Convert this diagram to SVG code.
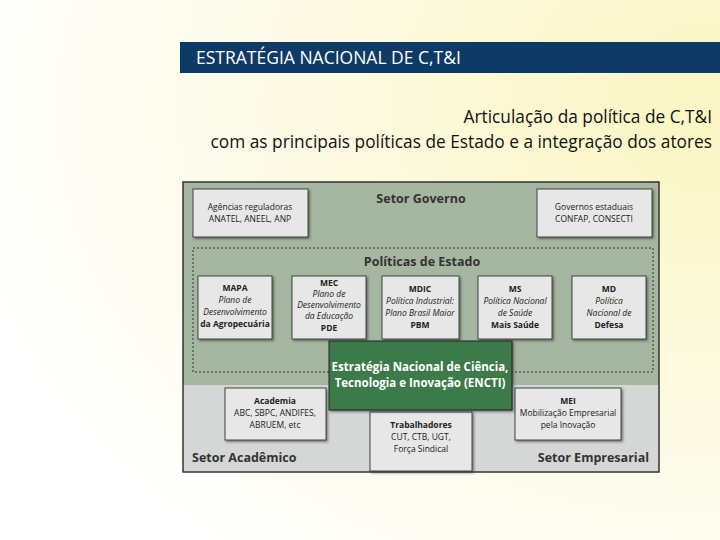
<svg xmlns="http://www.w3.org/2000/svg" width="720" height="540" viewBox="0 0 720 540">
<defs>
<radialGradient id="bg" cx="1" cy="0.2" r="1.1"><stop offset="0" stop-color="#fbf6c2"/><stop offset="0.6" stop-color="#fdfbe8"/><stop offset="1" stop-color="#ffffff"/></radialGradient>
<filter id="sh"><feDropShadow dx="1.5" dy="1.5" stdDeviation="1" flood-color="#333" flood-opacity="0.6"/></filter>
</defs>
<style>
text{font-family:"Open Sans","Liberation Sans",sans-serif;}
.box{fill:#e6e7e6;stroke:#444;stroke-width:1;filter:url(#sh);}
.t{font-size:8.5px;fill:#222;text-anchor:middle;}
.i{font-style:italic;}
.b{font-weight:bold;}
.h{font-size:12.5px;fill:#333;font-weight:bold;}
</style>
<rect width="720" height="540" fill="url(#bg)"/>
<rect x="180" y="42" width="540" height="31" fill="#0e3a66"/>
<text x="196" y="64" font-size="17.5" fill="#fff">ESTRATÉGIA NACIONAL DE C,T&amp;I</text>
<text x="712" y="123" font-size="17.3" fill="#111" text-anchor="end">Articulação da política de C,T&amp;I</text>
<text x="712" y="148" font-size="17.3" fill="#111" text-anchor="end">com as principais políticas de Estado e a integração dos atores</text>
<g id="frame">
<rect x="183" y="182" width="476" height="203" fill="#a5b7a0"/>
<rect x="183" y="385" width="476" height="87" fill="#d5d6d6"/>
<rect x="183" y="182" width="476" height="290" fill="none" stroke="#333" stroke-width="1.5"/>
<rect x="193" y="248" width="460" height="124" fill="none" stroke="#333" stroke-dasharray="2,2"/>
<text x="421" y="203" class="h" text-anchor="middle">Setor Governo</text>
<text x="422" y="266" class="h" text-anchor="middle">Políticas de Estado</text>
<text x="192" y="462" class="h">Setor Acadêmico</text>
<text x="649" y="462" class="h" text-anchor="end">Setor Empresarial</text>
</g>
<g id="agencias"><rect class="box" x="193" y="189" width="115" height="48"/><text class="t" x="250" y="210">Agências reguladoras</text><text class="t" x="250" y="222">ANATEL, ANEEL, ANP</text></g>
<g id="governos"><rect class="box" x="537" y="189" width="115" height="48"/><text class="t" x="594" y="210">Governos estaduais</text><text class="t" x="594" y="222">CONFAP, CONSECTI</text></g>
<g id="mapa"><rect class="box" x="198" y="276" width="74" height="63"/><text class="t b" x="235" y="291">MAPA</text><text class="t i" x="235" y="303">Plano de</text><text class="t i" x="235" y="315">Desenvolvimento</text><text class="t b" x="235" y="327" font-size="8">da Agropecuária</text></g>
<g id="mec"><rect class="box" x="292" y="276" width="74" height="63"/><text class="t b" x="329" y="286" font-size="8">MEC</text><text class="t i" x="329" y="297" font-size="8">Plano de</text><text class="t i" x="329" y="308" font-size="8">Desenvolvimento</text><text class="t i" x="329" y="319" font-size="8">da Educação</text><text class="t b" x="329" y="331" font-size="8">PDE</text></g>
<g id="mdic"><rect class="box" x="382" y="276" width="77" height="63"/><text class="t b" x="420" y="292">MDIC</text><text class="t i" x="420" y="304">Política Industrial:</text><text class="t i" x="420" y="316">Plano Brasil Maior</text><text class="t b" x="420" y="328">PBM</text></g>
<g id="ms"><rect class="box" x="478" y="276" width="74" height="63"/><text class="t b" x="515" y="292">MS</text><text class="t i" x="515" y="304">Política Nacional</text><text class="t i" x="515" y="316">de Saúde</text><text class="t b" x="515" y="328">Mais Saúde</text></g>
<g id="md"><rect class="box" x="572" y="276" width="74" height="63"/><text class="t b" x="609" y="292">MD</text><text class="t i" x="609" y="304">Política</text><text class="t i" x="609" y="316">Nacional de</text><text class="t b" x="609" y="328">Defesa</text></g>
<g id="academia"><rect class="box" x="225" y="388" width="101" height="52"/><text class="t b" x="275" y="404">Academia</text><text class="t" x="275" y="416">ABC, SBPC, ANDIFES,</text><text class="t" x="275" y="428">ABRUEM, etc</text></g>
<g id="trabalhadores"><rect class="box" x="370" y="412" width="102" height="59"/><text class="t b" x="421" y="428">Trabalhadores</text><text class="t" x="421" y="440">CUT, CTB, UGT,</text><text class="t" x="421" y="452">Força Sindical</text></g>
<g id="mei"><rect class="box" x="515" y="388" width="106" height="52"/><text class="t b" x="568" y="404">MEI</text><text class="t" x="568" y="416">Mobilização Empresarial</text><text class="t" x="568" y="428">pela Inovação</text></g>
<g id="encti"><rect x="329" y="341" width="183" height="69" fill="#3c7a48" stroke="#222" stroke-width="1" filter="url(#sh)"/><text x="420" y="371" font-size="11.5" font-weight="bold" fill="#fff" text-anchor="middle">Estratégia Nacional de Ciência,</text><text x="420" y="387" font-size="11.5" font-weight="bold" fill="#fff" text-anchor="middle">Tecnologia e Inovação (ENCTI)</text></g>
<g id="connectors"/>
</svg>
